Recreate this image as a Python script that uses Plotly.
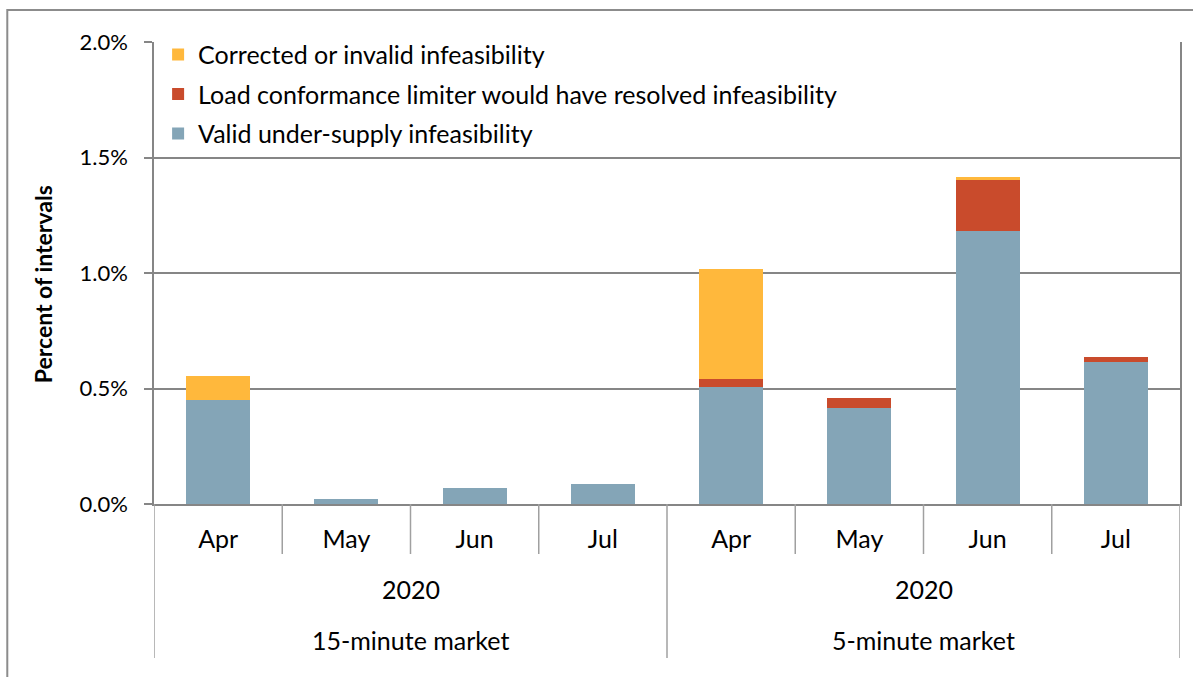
import plotly.graph_objects as go

months = ["Apr", "May", "Jun", "Jul", "Apr", "May", "Jun", "Jul"]
years = ["2020", "2020"]
markets = ["15-minute market", "5-minute market"]

valid = [0.451, 0.022, 0.069, 0.087, 0.507, 0.414, 1.182, 0.615]
load_conf = [0.0, 0.0, 0.0, 0.0, 0.036, 0.043, 0.219, 0.021]
corrected = [0.105, 0.0, 0.0, 0.0, 0.475, 0.0, 0.013, 0.0]

series_names = ["Valid under-supply infeasibility",
                "Load conformance limiter would have resolved infeasibility",
                "Corrected or invalid infeasibility"]
colors = ["#84A5B7", "#C94B2C", "#FFB83C"]

x = list(range(len(months)))
FONT = "Lato"
GRID = "#868686"

fig = go.Figure()
for i, (vals, name, col) in enumerate(zip([valid, load_conf, corrected], series_names, colors)):
    fig.add_trace(go.Bar(x=x, y=vals, name=name, marker=dict(color=col, line=dict(width=0)),
                         width=0.5, legendgroup=f"g{i}", legendrank=3 - i))

fig.update_layout(
    barmode="stack",
    width=1193, height=677,
    margin=dict(l=154, r=11, t=42, b=173),
    paper_bgcolor="white", plot_bgcolor="white",
    font=dict(family=FONT, size=25, color="black"),
    legend=dict(x=0.004, y=1.022, xanchor="left", yanchor="top",
                traceorder="grouped", font=dict(size=25, family=FONT),
                bgcolor="rgba(0,0,0,0)", itemwidth=30, tracegroupgap=4),
    showlegend=True,
)
fig.update_yaxes(range=[0, 2.0], tickvals=[0, 0.5, 1.0, 1.5, 2.0],
                 ticktext=["0.0%", "0.5%", "1.0%", "1.5%", "2.0%"],
                 showgrid=True, gridcolor=GRID, gridwidth=1.5,
                 showline=True, linecolor=GRID, linewidth=1.5, mirror=True,
                 ticks="outside", ticklen=8, tickcolor=GRID, tickwidth=1.5,
                 tickfont=dict(size=22), zeroline=False, ticklabelstandoff=12)
fig.update_xaxes(range=[-0.5, len(months) - 0.5], tickvals=x, ticktext=months,
                 showline=True, linecolor=GRID, linewidth=2, mirror=False,
                 ticks="", showgrid=False, zeroline=False,
                 tickfont=dict(size=25), ticklabelstandoff=12)

fig.add_annotation(x=(43 - 154) / 1028.0, xref="paper", y=(504 - 284) / 462.0, yref="paper",
                   text="<b>Percent of intervals</b>", textangle=-90, showarrow=False,
                   font=dict(size=23), xanchor="center", yanchor="middle")

row1 = 50 / 462.0
row_end = (658 - 504) / 462.0
shapes = []
for i in range(len(months) + 1):
    xb = i - 0.5
    full = (i % 4 == 0)
    shapes.append(dict(type="line", xref="x", yref="paper", x0=xb, x1=xb, y0=0,
                       y1=-(row_end if full else row1),
                       line=dict(color="#A0A0A0", width=1.5)))
shapes.append(dict(type="rect", xref="paper", yref="paper", x0=-0.143, x1=1.05,
                   y0=-0.6, y1=(504 - 10) / 462.0, line=dict(color="#8C8C8C", width=2),
                   fillcolor="rgba(0,0,0,0)", layer="below"))
fig.update_layout(shapes=shapes)

for j in range(2):
    cx = 1.5 + 4 * j
    fig.add_annotation(x=cx, xref="x", y=-(589 - 504) / 462.0, yref="paper",
                       text=years[j], showarrow=False, font=dict(size=25),
                       xanchor="center", yanchor="middle")
    fig.add_annotation(x=cx, xref="x", y=-(640 - 504) / 462.0, yref="paper",
                       text=markets[j], showarrow=False, font=dict(size=25),
                       xanchor="center", yanchor="middle")

fig.write_html("out.html", config={"displayModeBar": False},
               post_script="document.body.style.margin='0px';document.body.style.overflow='hidden';")
